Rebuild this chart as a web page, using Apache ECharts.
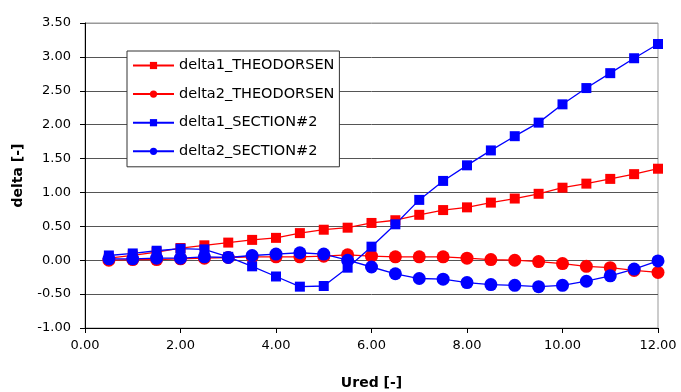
<!DOCTYPE html>
<html>
<head>
<meta charset="utf-8">
<script src="https://cdn.jsdelivr.net/npm/echarts@6/dist/echarts.min.js"></script>
<style>
  html, body { margin: 0; padding: 0; background: #fff; }
  #chart { width: 681px; height: 392px; }
</style>
</head>
<body>
<div id="chart"></div>
<script>
// Reduced velocity values
var ured = [0.5, 1.0, 1.5, 2.0, 2.5, 3.0, 3.5, 4.0, 4.5, 5.0, 5.5, 6.0,
            6.5, 7.0, 7.5, 8.0, 8.5, 9.0, 9.5, 10.0, 10.5, 11.0, 11.5, 12.0];

var delta1Theodorsen = [0.03, 0.07, 0.12, 0.18, 0.22, 0.26, 0.30, 0.33, 0.40, 0.45, 0.48, 0.55,
                        0.59, 0.67, 0.74, 0.78, 0.85, 0.91, 0.98, 1.07, 1.13, 1.20, 1.27, 1.35];
var delta2Theodorsen = [0.00, 0.01, 0.01, 0.02, 0.03, 0.04, 0.05, 0.05, 0.05, 0.06, 0.08, 0.06,
                        0.05, 0.05, 0.05, 0.03, 0.01, 0.00, -0.02, -0.05, -0.09, -0.11, -0.15, -0.18];
var delta1Section2 = [0.07, 0.10, 0.14, 0.17, 0.16, 0.05, -0.09, -0.24, -0.39, -0.38, -0.11, 0.20,
                      0.53, 0.89, 1.17, 1.40, 1.62, 1.83, 2.03, 2.30, 2.54, 2.76, 2.98, 3.19];
var delta2Section2 = [0.02, 0.02, 0.03, 0.03, 0.05, 0.04, 0.07, 0.09, 0.11, 0.09, 0.00, -0.10,
                      -0.20, -0.27, -0.28, -0.33, -0.36, -0.37, -0.39, -0.37, -0.31, -0.23, -0.13, -0.01];

var seriesNames = ['delta1_THEODORSEN', 'delta2_THEODORSEN', 'delta1_SECTION#2', 'delta2_SECTION#2'];

function pairs(ys) {
  return ured.map(function (x, i) { return [x, ys[i]]; });
}

function lineSeries(name, ys, color, symbol, size) {
  return {
    name: name,
    type: 'line',
    data: pairs(ys),
    symbol: symbol,
    symbolSize: size,
    showAllSymbol: true,
    lineStyle: { color: color, width: 1.3 },
    itemStyle: { color: color },
    emphasis: { disabled: true }
  };
}

var font = 'DejaVu Sans';
var chart = echarts.init(document.getElementById('chart'), null, { renderer: 'canvas' });

// Split line colours: inner lines dark, the top one lighter like the frame
var splitColors = ['#555', '#555', '#555', '#555', '#555', '#555', '#555', '#555', '#555', '#999'];

chart.setOption({
  animation: false,
  backgroundColor: '#fff',
  grid: {
    left: 85, right: 23, top: 23, bottom: 64,
    outerBoundsMode: 'none',
    containLabel: false,
    show: true, borderColor: '#999', borderWidth: 1, backgroundColor: 'transparent'
  },
  legend: {
    orient: 'vertical',
    left: 127, top: 51,
    data: seriesNames,
    itemWidth: 41, itemHeight: 9, itemGap: 13.6,
    padding: [7, 5, 8, 5],
    borderColor: '#333', borderWidth: 1,
    backgroundColor: '#fff',
    textStyle: { fontFamily: font, fontSize: 14.5, color: '#000' }
  },
  xAxis: {
    type: 'value',
    min: 0, max: 12, interval: 2,
    name: 'Ured [-]',
    nameLocation: 'middle',
    nameGap: 48,
    nameTextStyle: { fontFamily: font, fontSize: 14, fontWeight: 'bold', color: '#000' },
    axisLine: { show: true, onZero: false, lineStyle: { color: '#000', width: 1 } },
    axisTick: { show: true, length: 5, lineStyle: { color: '#000' } },
    axisLabel: { fontFamily: font, fontSize: 13, color: '#000', margin: 11,
                 formatter: function (v) { return v.toFixed(2); } },
    splitLine: { show: false }
  },
  yAxis: {
    type: 'value',
    min: -1, max: 3.5, interval: 0.5,
    name: 'delta [-]',
    nameLocation: 'middle',
    nameGap: 60,
    nameTextStyle: { fontFamily: font, fontSize: 14, fontWeight: 'bold', color: '#000' },
    axisLine: { show: true, onZero: false, lineStyle: { color: '#000', width: 1 } },
    axisTick: { show: true, length: 5, lineStyle: { color: '#000' } },
    axisLabel: { fontFamily: font, fontSize: 13, color: '#000', margin: 14,
                 formatter: function (v) { return v.toFixed(2); } },
    splitLine: { show: true, lineStyle: { color: splitColors, width: 1 } }
  },
  series: [
    lineSeries(seriesNames[0], delta1Theodorsen, '#ff0000', 'rect', 10),
    lineSeries(seriesNames[1], delta2Theodorsen, '#ff0000', 'circle', 13),
    lineSeries(seriesNames[2], delta1Section2, '#0000ff', 'rect', 10),
    lineSeries(seriesNames[3], delta2Section2, '#0000ff', 'circle', 13)
  ]
});
</script>
</body>
</html>
